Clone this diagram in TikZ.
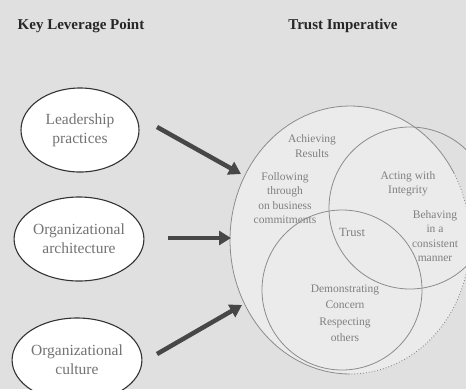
\documentclass[tikz,border=0pt]{standalone}
\usepackage{fontspec}
\setmainfont{Liberation Serif}
\usetikzlibrary{shapes.geometric,arrows.meta}
\begin{document}
\begin{tikzpicture}[x=1pt,y=-1pt,
  lev/.style={draw=black!80, line width=1.1pt, ellipse, minimum width=118pt, minimum height=84pt, inner sep=0pt, align=center, font=\fontsize{15.5}{19}\selectfont, text=black!55, fill=white},
  head/.style={font=\fontsize{15}{17}\selectfont\bfseries, text=black!85, inner sep=0pt},
  bigarrow/.style={draw=black!72, line width=4.5pt, -{Triangle[length=12pt,width=14pt]}},
  ring/.style={draw=black!45, line width=0.8pt},
  dotring/.style={draw=black!45, line width=0.9pt, dotted},
  vtxt/.style={font=\fontsize{11.5}{14.3}\selectfont, text=black!50, align=center, inner sep=0pt},
]
\path[use as bounding box] (0,0) rectangle (466,389);
\clip (0,0) rectangle (466,389);
\fill[black!12] (0,0) rectangle (466,389);

% headers
\node[head] (h1) at (81,26) {Key Leverage Point};
\node[head] (h2) at (343,26) {Trust Imperative};

% leverage points
\node[lev] (lp) at (80,130) {Leadership\\practices};
\node[lev] (oa) at (79,239) {Organizational\\architecture};
\node[lev] (oc) at (77,360) {Organizational\\culture};

% trust diagram
\fill[white!92!black] (350,240) ellipse [x radius=120, y radius=134];
\draw[ring] plot[domain=90:330, samples=80] ({350+120*cos(\x)}, {240+134*sin(\x)});
\draw[dotring] plot[domain=-30:90, samples=50] ({350+120*cos(\x)}, {240+134*sin(\x)});
\node[ring, circle, minimum size=162pt, inner sep=0pt] (ci) at (410,208) {};
\node[ring, circle, minimum size=160pt, inner sep=0pt] (cc) at (342,290) {};

\node[vtxt] (ar) at (312,146) {Achieving\\Results};
\node[vtxt] (ft) at (285,198) {Following\\through\\on business\\commitments};
\node[vtxt] (ai) at (408,184) {Acting with\\Integrity};
\node[vtxt] (bc) at (435,236) {Behaving\\in a\\consistent\\manner};
\node[vtxt, font=\fontsize{12.5}{14}\selectfont] (tr) at (352,232) {Trust};
\node[vtxt, font=\fontsize{11.5}{16.5}\selectfont] (dc) at (345,313) {Demonstrating\\Concern\\Respecting\\others};

% arrows
\coordinate (a1s) at (157,127);
\coordinate (a1e) at (241,174);
\coordinate (a2s) at (168,238);
\coordinate (a2e) at (231,238);
\coordinate (a3s) at (157,354);
\coordinate (a3e) at (242,305);
\draw[bigarrow] (a1s) -- (a1e);
\draw[bigarrow] (a2s) -- (a2e);
\draw[bigarrow] (a3s) -- (a3e);
\end{tikzpicture}
\end{document}
